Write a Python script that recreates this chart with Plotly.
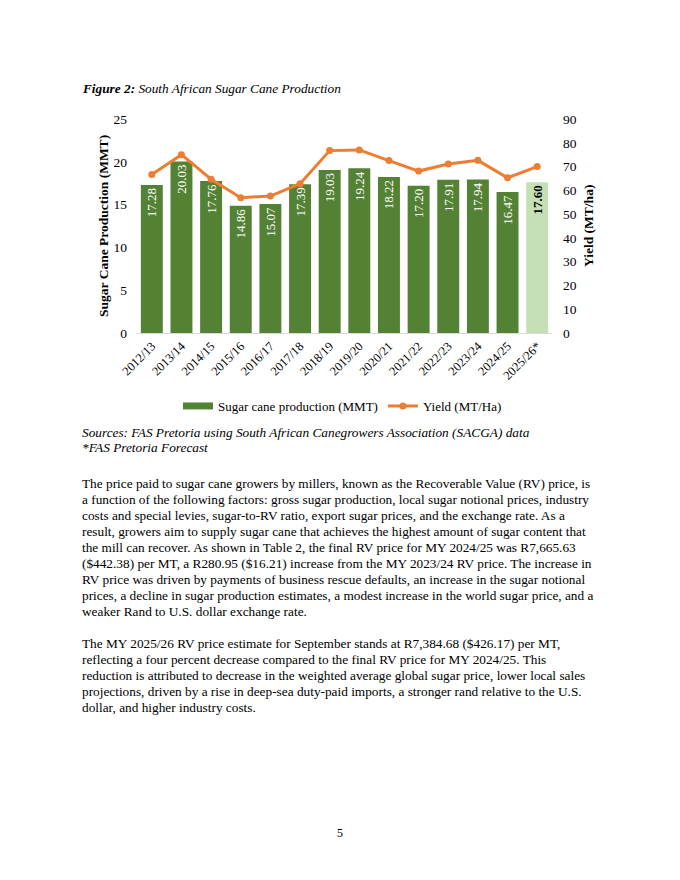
import plotly.graph_objects as go

years = ["2012/13", "2013/14", "2014/15", "2015/16", "2016/17", "2017/18", "2018/19",
         "2019/20", "2020/21", "2021/22", "2022/23", "2023/24", "2024/25", "2025/26*"]
production = [17.28, 20.03, 17.76, 14.86, 15.07, 17.39, 19.03, 19.24, 18.22, 17.20,
              17.91, 17.94, 16.47, 17.60]
yield_vals = [66.7, 75.0, 64.7, 56.9, 57.6, 62.8, 76.7, 77.0, 72.5, 68.1, 71.1, 72.6, 65.3, 70.0]
left_ticks = [0, 5, 10, 15, 20, 25]
right_ticks = [0, 10, 20, 30, 40, 50, 60, 70, 80, 90]

FONT = "Liberation Serif"
OFF = 8  # page body margin
W, H = 680 - OFF, 880 - OFF
# plot area in page coords: x 137..552, y 119..333
L, T = 137 - OFF, 119 - OFF
PW, PH = 552 - 137, 333 - 119
R, B = W - L - PW, H - T - PH

def px(x):
    return (x - OFF - L) / PW

def py(y):
    return (T + PH - (y - OFF)) / PH

GREEN = "#548235"
LIGHT = "#C5E0B4"
ORANGE = "#ED7D31"

n = len(years)
bar_colors = [GREEN] * (n - 1) + [LIGHT]
bar_text = [f"{v:.2f}" for v in production[:-1]] + [f"<b>{production[-1]:.2f}</b>"]
text_colors = ["white"] * (n - 1) + ["black"]

fig = go.Figure()
fig.add_trace(go.Bar(
    x=years, y=production, name="Sugar cane production (MMT)",
    marker=dict(color=bar_colors, line=dict(width=0)),
    text=bar_text, textposition="inside", insidetextanchor="end", textangle=-90,
    textfont=dict(family=FONT, size=13, color=text_colors),
    hoverinfo="skip", yaxis="y", showlegend=False,
))
# legend entry for the bars (wide swatch like the original)
fig.add_trace(go.Scatter(
    x=[None], y=[None], name="Sugar cane production (MMT)", mode="lines",
    line=dict(color=GREEN, width=7), yaxis="y", hoverinfo="skip",
))
fig.add_trace(go.Scatter(
    x=years, y=yield_vals, name="Yield (MT/Ha)", mode="lines+markers",
    line=dict(color=ORANGE, width=3), marker=dict(color=ORANGE, size=7),
    yaxis="y2",
))

fig.update_layout(
    width=W, height=H, autosize=False,
    margin=dict(l=L, r=R, t=T, b=B, pad=0, autoexpand=False),
    paper_bgcolor="white", plot_bgcolor="white",
    font=dict(family=FONT, size=13, color="black"),
    bargap=0.26,
    showlegend=True,
    legend=dict(orientation="h", x=px(178), xanchor="left", y=py(406), yanchor="middle",
                font=dict(family=FONT, size=13, color="black"), itemwidth=30,
                tracegroupgap=0, bgcolor="rgba(0,0,0,0)"),
    xaxis=dict(type="category", range=[-0.5, n - 0.5], tickangle=-45, showgrid=False,
               zeroline=False, showline=True, linecolor="#D9D9D9", linewidth=1, ticks="",
               tickfont=dict(family=FONT, size=12.5), automargin=False),
    yaxis=dict(range=[0, 25], tickvals=left_ticks, showgrid=False, zeroline=False,
               showline=False, ticks="", ticklabelstandoff=9, automargin=False,
               tickfont=dict(family=FONT, size=13.5)),
    yaxis2=dict(range=[0, 90], tickvals=right_ticks, overlaying="y", side="right",
                showgrid=False, zeroline=False, showline=False, ticks="", automargin=False,
                ticklabelstandoff=10, tickfont=dict(family=FONT, size=13.5)),
)

annots = []
annots.append(dict(x=px(103), y=py(226), text="<b>Sugar Cane Production (MMT)</b>",
                   textangle=-90, font=dict(size=13.5)))
annots.append(dict(x=px(588), y=py(226), text="<b>Yield (MT/ha)</b>",
                   textangle=-90, font=dict(size=13.5)))
annots.append(dict(x=px(80), y=py(88), xanchor="left",
                   text="<b><i>Figure 2:</i></b><i> South African Sugar Cane Production</i>",
                   font=dict(size=13.3)))
annots.append(dict(x=px(80), y=py(432), xanchor="left",
                   text="<i>Sources: FAS Pretoria using South African Canegrowers Association (SACGA) data</i>",
                   font=dict(size=13.3)))
annots.append(dict(x=px(80), y=py(447), xanchor="left",
                   text="<i>*FAS Pretoria Forecast</i>", font=dict(size=13.3)))

para1 = [
    "The price paid to sugar cane growers by millers, known as the Recoverable Value (RV) price, is",
    "a function of the following factors: gross sugar production, local sugar notional prices, industry",
    "costs and special levies, sugar-to-RV ratio, export sugar prices, and the exchange rate. As a",
    "result, growers aim to supply sugar cane that achieves the highest amount of sugar content that",
    "the mill can recover. As shown in Table 2, the final RV price for MY 2024/25 was R7,665.63",
    "($442.38) per MT, a R280.95 ($16.21) increase from the MY 2023/24 RV price. The increase in",
    "RV price was driven by payments of business rescue defaults, an increase in the sugar notional",
    "prices, a decline in sugar production estimates, a modest increase in the world sugar price, and a",
    "weaker Rand to U.S. dollar exchange rate.",
]
para2 = [
    "The MY 2025/26 RV price estimate for September stands at R7,384.68 ($426.17) per MT,",
    "reflecting a four percent decrease compared to the final RV price for MY 2024/25. This",
    "reduction is attributed to decrease in the weighted average global sugar price, lower local sales",
    "projections, driven by a rise in deep-sea duty-paid imports, a stronger rand relative to the U.S.",
    "dollar, and higher industry costs.",
]
for i, line in enumerate(para1):
    annots.append(dict(x=px(80), y=py(483 + 16 * i), xanchor="left", text=line,
                       font=dict(size=13.3)))
for i, line in enumerate(para2):
    annots.append(dict(x=px(80), y=py(643 + 16 * i), xanchor="left", text=line,
                       font=dict(size=13.3)))
annots.append(dict(x=px(340), y=py(833), text="5", font=dict(size=12)))

for a in annots:
    a.update(xref="paper", yref="paper", showarrow=False, yanchor="middle")
    a.setdefault("xanchor", "center")
    a["font"] = dict(family=FONT, color="black", **a["font"])
fig.update_layout(annotations=annots)

fig.write_html("out.html")
